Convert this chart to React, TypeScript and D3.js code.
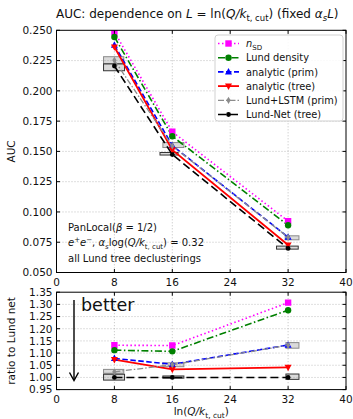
import * as d3 from "d3";
import { useEffect, useRef } from "react";

// -----------------------------
// DATA
// -----------------------------
const xVals = [8, 16, 32];
const xTicks = [0, 8, 16, 24, 32, 40];
const aucTicks = [0.05, 0.075, 0.1, 0.125, 0.15, 0.175, 0.2, 0.225, 0.25];
const ratioTicks = [0.95, 1.0, 1.05, 1.1, 1.15, 1.2, 1.25, 1.3, 1.35];

const aucNSD = [0.2486, 0.1662, 0.0924];
const aucLundDensity = [0.2445, 0.1625, 0.089];
const aucAnalyticPrim = [0.2378, 0.1548, 0.0792];
const aucAnalyticTree = [0.2362, 0.1512, 0.0727];
const aucLundLSTM = [0.2252, 0.1545, 0.079];
const aucLundNet = [0.2205, 0.1474, 0.0699];

const ratioNSD = [1.132, 1.131, 1.307];
const ratioLundDensity = [1.112, 1.107, 1.276];
const ratioAnalyticPrim = [1.078, 1.054, 1.133];
const ratioAnalyticTree = [1.073, 1.033, 1.041];
const ratioLundLSTM = [1.023, 1.052, 1.132];
const ratioLundNet = [1.0, 1.0, 1.0];

// error boxes: [xLow, xHigh, yLow, yHigh]
const aucBoxLSTM = [
  [6.5, 9.3, 0.2223, 0.2282],
  [14.7, 17.6, 0.1532, 0.1573],
  [31.6, 33.5, 0.077, 0.0803],
];
const aucBoxNet = [
  [6.5, 9.4, 0.2166, 0.2223],
  [14.3, 16.8, 0.147, 0.1491],
  [30.4, 33.4, 0.0693, 0.0718],
];
const ratioBoxLSTM = [
  [6.5, 9.3, 1.017, 1.033],
  [14.7, 17.6, 1.044, 1.06],
  [31.7, 33.5, 1.12, 1.143],
];
const ratioBoxNet = [
  [6.5, 9.4, 0.989, 1.013],
  [14.7, 17.6, 0.997, 1.006],
  [31.7, 33.5, 0.992, 1.014],
];

const seriesNames = [
  "nSD",
  "Lund density",
  "analytic (prim)",
  "analytic (tree)",
  "Lund+LSTM (prim)",
  "Lund-Net (tree)",
];

type Style = {
  color: string;
  dash: string;
  marker: string;
  width: number;
};

const styles: Style[] = [
  { color: "#ff00ff", dash: "1.5,2.5", marker: "square", width: 1.6 },
  { color: "#008000", dash: "7,2.5,1.5,2.5", marker: "circle", width: 1.6 },
  { color: "#0000ff", dash: "5.5,2.5", marker: "triUp", width: 1.6 },
  { color: "#ff0000", dash: "", marker: "triDown", width: 1.8 },
  { color: "#8c8c8c", dash: "6,2,1.5,2", marker: "diamond", width: 1.3 },
  { color: "#000000", dash: "8,4", marker: "dot", width: 1.6 },
];

const FONT = "DejaVu Sans, sans-serif";

function markerPath(kind: string, r: number) {
  if (kind === "square") return `M${-r},${-r}H${r}V${r}H${-r}Z`;
  if (kind === "triUp") return `M0,${-r * 1.1}L${r},${r * 0.75}L${-r},${r * 0.75}Z`;
  if (kind === "triDown") return `M0,${r * 1.1}L${r},${-r * 0.75}L${-r},${-r * 0.75}Z`;
  if (kind === "diamond") return `M0,${-r}L${r * 0.6},0L0,${r}L${-r * 0.6},0Z`;
  return "";
}

export default function App() {
  const ref = useRef<HTMLDivElement>(null);

  useEffect(() => {
    if (!ref.current) return;
    const container = ref.current;
    container.innerHTML = "";

    const width = 353;
    const height = 419;
    const left = 56.5;
    const right = 346;

    const svg = d3
      .select(container)
      .append("svg")
      .attr("width", width)
      .attr("height", height)
      .style("font-family", FONT);

    svg.append("rect").attr("width", width).attr("height", height).attr("fill", "white");

    const x = d3.scaleLinear().domain([0, 40]).range([left, right]);
    const yTop = d3.scaleLinear().domain([0.05, 0.25]).range([272.5, 30.3]);
    const yBot = d3.scaleLinear().domain([0.95, 1.35]).range([389.6, 292.2]);

    const drawPanel = (
      y: d3.ScaleLinear<number, number>,
      yTicks: number[],
      fmt: (v: number) => string,
      series: number[][],
      boxLSTM: number[][],
      boxNet: number[][],
      clipId: string
    ) => {
      const [y0, y1] = y.range();
      const g = svg.append("g");

      // grid
      g.selectAll(".gx")
        .data(xTicks.slice(1, -1))
        .enter()
        .append("line")
        .attr("x1", (d) => x(d))
        .attr("x2", (d) => x(d))
        .attr("y1", y1)
        .attr("y2", y0)
        .attr("stroke", "#b0b0b0")
        .attr("stroke-width", 0.8)
        .attr("stroke-dasharray", "1,2");
      g.selectAll(".gy")
        .data(yTicks.slice(1, -1))
        .enter()
        .append("line")
        .attr("x1", left)
        .attr("x2", right)
        .attr("y1", (d) => y(d))
        .attr("y2", (d) => y(d))
        .attr("stroke", "#b0b0b0")
        .attr("stroke-width", 0.8)
        .attr("stroke-dasharray", "1,2");

      svg
        .append("clipPath")
        .attr("id", clipId)
        .append("rect")
        .attr("x", left)
        .attr("y", y1)
        .attr("width", right - left)
        .attr("height", y0 - y1);

      const plot = g.append("g").attr("clip-path", `url(#${clipId})`);

      // error boxes
      const drawBoxes = (boxes: number[][], edge: string) => {
        plot
          .selectAll(null)
          .data(boxes)
          .enter()
          .append("rect")
          .attr("x", (d) => x(d[0]))
          .attr("width", (d) => x(d[1]) - x(d[0]))
          .attr("y", (d) => y(d[3]))
          .attr("height", (d) => y(d[2]) - y(d[3]))
          .attr("fill", "rgba(150,150,150,0.35)")
          .attr("stroke", edge)
          .attr("stroke-width", 1);
      };
      drawBoxes(boxLSTM, "#8a8a8a");
      drawBoxes(boxNet, "#333333");

      const line = d3
        .line<number>()
        .x((_, i) => x(xVals[i]))
        .y((d) => y(d));

      series.forEach((vals, si) => {
        const st = styles[si];
        plot
          .append("path")
          .attr("d", line(vals))
          .attr("fill", "none")
          .attr("stroke", st.color)
          .attr("stroke-width", st.width)
          .attr("stroke-dasharray", st.dash || null);
      });
      series.forEach((vals, si) => {
        const st = styles[si];
        vals.forEach((v, i) => drawMarker(plot, st, x(xVals[i]), y(v)));
      });

      // frame
      g.append("rect")
        .attr("x", left)
        .attr("y", y1)
        .attr("width", right - left)
        .attr("height", y0 - y1)
        .attr("fill", "none")
        .attr("stroke", "black")
        .attr("stroke-width", 1);

      // ticks inward on all sides
      xTicks.forEach((t) => {
        g.append("line").attr("x1", x(t)).attr("x2", x(t)).attr("y1", y0).attr("y2", y0 - 3.5).attr("stroke", "black");
        g.append("line").attr("x1", x(t)).attr("x2", x(t)).attr("y1", y1).attr("y2", y1 + 3.5).attr("stroke", "black");
        g.append("text")
          .attr("x", x(t))
          .attr("y", y0 + 13)
          .attr("text-anchor", "middle")
          .attr("font-size", 10.5)
          .attr("fill", "#111")
          .text(t);
      });
      yTicks.forEach((t) => {
        g.append("line").attr("x1", left).attr("x2", left + 3.5).attr("y1", y(t)).attr("y2", y(t)).attr("stroke", "black");
        g.append("line").attr("x1", right).attr("x2", right - 3.5).attr("y1", y(t)).attr("y2", y(t)).attr("stroke", "black");
        g.append("text")
          .attr("x", left - 4)
          .attr("y", y(t) + 3.8)
          .attr("text-anchor", "end")
          .attr("font-size", 10.5)
          .attr("fill", "#111")
          .text(fmt(t));
      });
    };

    function drawMarker(sel: any, st: Style, cx: number, cy: number) {
      if (st.marker === "circle") {
        sel.append("circle").attr("cx", cx).attr("cy", cy).attr("r", 3.2).attr("fill", st.color);
      } else if (st.marker === "dot") {
        sel.append("circle").attr("cx", cx).attr("cy", cy).attr("r", 2.4).attr("fill", st.color);
      } else {
        const r = st.marker === "square" ? 3.2 : st.marker === "diamond" ? 3.6 : 3.5;
        sel
          .append("path")
          .attr("transform", `translate(${cx},${cy})`)
          .attr("d", markerPath(st.marker, r))
          .attr("fill", st.color);
      }
    }

    drawPanel(
      yTop,
      aucTicks,
      d3.format(".3f"),
      [aucNSD, aucLundDensity, aucAnalyticPrim, aucAnalyticTree, aucLundLSTM, aucLundNet],
      aucBoxLSTM,
      aucBoxNet,
      "clipTop"
    );
    drawPanel(
      yBot,
      ratioTicks,
      d3.format(".2f"),
      [ratioNSD, ratioLundDensity, ratioAnalyticPrim, ratioAnalyticTree, ratioLundLSTM, ratioLundNet],
      ratioBoxLSTM,
      ratioBoxNet,
      "clipBot"
    );

    // -----------------------------
    // TITLE + AXIS LABELS
    // -----------------------------
    const title = svg
      .append("text")
      .attr("x", (left + right) / 2 - 4)
      .attr("y", 18)
      .attr("text-anchor", "middle")
      .attr("font-size", 12)
      .attr("fill", "#111");
    title.append("tspan").text("AUC: dependence on ");
    title.append("tspan").attr("font-style", "italic").text("L");
    title.append("tspan").text(" = ln(");
    title.append("tspan").attr("font-style", "italic").text("Q/k");
    title.append("tspan").attr("font-size", 8.5).attr("dy", 3).text("t, cut");
    title.append("tspan").attr("dy", -3).text(") (fixed ");
    title.append("tspan").attr("font-style", "italic").text("α");
    title.append("tspan").attr("font-style", "italic").attr("font-size", 8.5).attr("dy", 3).text("s");
    title.append("tspan").attr("font-style", "italic").attr("dy", -3).text("L");
    title.append("tspan").text(")");

    svg
      .append("text")
      .attr("transform", `translate(15,${(30.3 + 272.5) / 2}) rotate(-90)`)
      .attr("text-anchor", "middle")
      .attr("font-size", 10.5)
      .attr("fill", "#111")
      .text("AUC");
    svg
      .append("text")
      .attr("transform", `translate(15,${(292.2 + 389.6) / 2}) rotate(-90)`)
      .attr("text-anchor", "middle")
      .attr("font-size", 10.5)
      .attr("fill", "#111")
      .text("ratio to Lund net");

    const xl = svg
      .append("text")
      .attr("x", (left + right) / 2)
      .attr("y", 415)
      .attr("text-anchor", "middle")
      .attr("font-size", 10.5)
      .attr("fill", "#111");
    xl.append("tspan").text("ln(");
    xl.append("tspan").attr("font-style", "italic").text("Q/k");
    xl.append("tspan").attr("font-size", 7.5).attr("dy", 2.5).text("t, cut");
    xl.append("tspan").attr("dy", -2.5).text(")");

    // -----------------------------
    // ANNOTATION
    // -----------------------------
    const ann = svg.append("g").attr("font-size", 10).attr("fill", "#111");
    const a1 = ann.append("text").attr("x", 68).attr("y", 231);
    a1.append("tspan").text("PanLocal(");
    a1.append("tspan").attr("font-style", "italic").text("β");
    a1.append("tspan").text(" = 1/2)");
    const a2 = ann.append("text").attr("x", 68).attr("y", 246);
    a2.append("tspan").attr("font-style", "italic").text("e");
    a2.append("tspan").attr("font-size", 7).attr("dy", -4).text("+");
    a2.append("tspan").attr("font-style", "italic").attr("dy", 4).text("e");
    a2.append("tspan").attr("font-size", 7).attr("dy", -4).text("−");
    a2.append("tspan").attr("dy", 4).text(", ");
    a2.append("tspan").attr("font-style", "italic").text("α");
    a2.append("tspan").attr("font-style", "italic").attr("font-size", 7).attr("dy", 2.5).text("s");
    a2.append("tspan").attr("dy", -2.5).text("log(");
    a2.append("tspan").attr("font-style", "italic").text("Q/k");
    a2.append("tspan").attr("font-size", 7).attr("dy", 2.5).text("t, cut");
    a2.append("tspan").attr("dy", -2.5).text(") = 0.32");
    ann.append("text").attr("x", 68).attr("y", 262).text("all Lund tree declusterings");

    // better arrow
    svg
      .append("text")
      .attr("x", 81)
      .attr("y", 311)
      .attr("font-size", 17.5)
      .attr("fill", "#111")
      .text("better");
    svg.append("line").attr("x1", 74).attr("x2", 74).attr("y1", 300).attr("y2", 380).attr("stroke", "black").attr("stroke-width", 1.4);
    svg
      .append("path")
      .attr("d", "M69.5,372.5L74,380.5L78.5,372.5")
      .attr("fill", "none")
      .attr("stroke", "black")
      .attr("stroke-width", 1.4);

    // -----------------------------
    // LEGEND
    // -----------------------------
    const lg = svg.append("g");
    lg.append("rect")
      .attr("x", 215)
      .attr("y", 35)
      .attr("width", 128)
      .attr("height", 86)
      .attr("rx", 3)
      .attr("fill", "rgba(255,255,255,0.85)")
      .attr("stroke", "#cccccc")
      .attr("stroke-width", 0.9);
    seriesNames.forEach((name, i) => {
      const st = styles[i];
      const ly = 43.5 + i * 14.2;
      lg.append("line")
        .attr("x1", 218)
        .attr("x2", 239)
        .attr("y1", ly)
        .attr("y2", ly)
        .attr("stroke", st.color)
        .attr("stroke-width", st.width)
        .attr("stroke-dasharray", st.dash || null);
      drawMarker(lg, st, 228.5, ly);
      const t = lg
        .append("text")
        .attr("x", 246)
        .attr("y", ly + 3.6)
        .attr("font-size", 9.8)
        .attr("fill", "#111");
      if (i === 0) {
        t.append("tspan").attr("font-style", "italic").text("n");
        t.append("tspan").attr("font-size", 7).attr("dy", 2.5).text("SD");
      } else {
        t.text(name);
      }
    });
  }, []);

  return <div ref={ref} style={{ position: "absolute", left: 0, top: 0 }} />;
}
